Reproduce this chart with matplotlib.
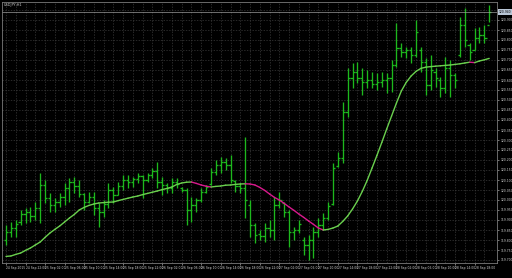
import matplotlib
matplotlib.use("Agg")
import matplotlib.pyplot as plt
import matplotlib.transforms as mtransforms
import numpy as np

symbol = "USDJPY,H1"

bar_high = [
    119.875, 119.890, 119.900, 119.950, 119.960, 119.965, 119.990, 120.135, 120.100, 120.035,
    120.010, 120.035, 120.085, 120.110, 120.115, 120.100, 120.035, 120.040, 120.040, 119.985,
    120.000, 120.085, 120.065, 120.090, 120.125, 120.125, 120.115, 120.135, 120.125, 120.135,
    120.160, 120.190, 120.115, 120.085, 120.110, 120.110, 120.065, 120.060, 120.015, 120.010,
    120.060, 120.075, 120.160, 120.200, 120.215, 120.210, 120.225, 120.100, 120.085, 120.315,
    120.000, 119.885, 119.850, 119.885, 119.900, 120.015, 120.040, 119.990, 119.950, 119.865,
    119.900, 119.815, 119.825, 119.865, 119.910, 119.935, 119.990, 120.185, 120.240, 120.490,
    120.660, 120.685, 120.690, 120.660, 120.650, 120.640, 120.635, 120.640, 120.635, 120.700,
    120.885, 120.785, 120.765, 120.765, 120.900, 120.765, 120.710, 120.725, 120.660, 120.615,
    120.715, 120.700, 120.635, 120.915, 120.960, 120.785, 120.860, 120.865, 120.875, 120.975,
]
bar_low = [
    119.775, 119.815, 119.815, 119.875, 119.885, 119.890, 119.900, 119.885, 119.985, 119.940,
    119.940, 119.965, 119.975, 119.990, 120.035, 120.015, 119.950, 119.985, 119.925, 119.865,
    119.915, 119.960, 119.985, 120.025, 120.050, 120.060, 120.065, 120.085, 120.010, 120.090,
    120.110, 120.060, 120.025, 120.035, 120.035, 120.060, 120.040, 119.875, 119.890, 119.940,
    119.990, 120.035, 120.075, 120.125, 120.135, 120.150, 120.085, 120.040, 120.035, 119.910,
    119.815, 119.785, 119.800, 119.790, 119.815, 119.800, 119.960, 119.915, 119.765, 119.800,
    119.835, 119.725, 119.700, 119.710, 119.815, 119.850, 119.900, 119.975, 120.165, 120.185,
    120.415, 120.560, 120.585, 120.525, 120.560, 120.560, 120.550, 120.565, 120.535, 120.540,
    120.665, 120.715, 120.710, 120.685, 120.715, 120.640, 120.525, 120.550, 120.565, 120.515,
    120.535, 120.515, 120.560, 120.715, 120.765, 120.700, 120.750, 120.785, 120.785, 120.890,
]
bar_open = [
    119.800, 119.840, 119.860, 119.890, 119.930, 119.940, 119.920, 119.960, 120.075, 120.010,
    119.975, 119.990, 120.015, 120.060, 120.090, 120.070, 120.030, 119.990, 120.015, 119.960,
    119.940, 119.980, 120.050, 120.025, 120.070, 120.100, 120.090, 120.105, 120.120, 120.100,
    120.125, 120.145, 120.090, 120.075, 120.060, 120.090, 120.060, 120.050, 119.950, 119.975,
    120.000, 120.040, 120.080, 120.140, 120.175, 120.190, 120.175, 120.095, 120.070, 120.060,
    119.975, 119.875, 119.830, 119.820, 119.860, 119.850, 119.975, 119.985, 119.940, 119.840,
    119.850, 119.800, 119.775, 119.800, 119.840, 119.875, 119.910, 119.980, 120.170, 120.210,
    120.440, 120.610, 120.640, 120.610, 120.590, 120.600, 120.580, 120.590, 120.600, 120.610,
    120.675, 120.760, 120.740, 120.750, 120.725, 120.750, 120.690, 120.575, 120.640, 120.600,
    120.560, 120.660, 120.625, 120.725, 120.875, 120.775, 120.750, 120.810, 120.825, 120.875,
]
bar_close = [
    119.840, 119.860, 119.880, 119.930, 119.940, 119.920, 119.960, 120.075, 120.010, 119.975,
    119.990, 120.015, 120.060, 120.090, 120.070, 120.030, 119.990, 120.015, 119.960, 119.940,
    119.980, 120.050, 120.025, 120.070, 120.100, 120.090, 120.105, 120.120, 120.100, 120.125,
    120.145, 120.090, 120.075, 120.060, 120.090, 120.080, 120.050, 119.950, 119.975, 120.000,
    120.040, 120.065, 120.140, 120.175, 120.190, 120.175, 120.100, 120.070, 120.060, 120.000,
    119.875, 119.825, 119.820, 119.860, 119.850, 119.975, 120.000, 119.940, 119.840, 119.850,
    119.880, 119.775, 119.800, 119.840, 119.875, 119.910, 119.970, 120.160, 120.210, 120.440,
    120.610, 120.640, 120.610, 120.590, 120.600, 120.580, 120.590, 120.600, 120.610, 120.675,
    120.760, 120.740, 120.750, 120.725, 120.840, 120.690, 120.575, 120.650, 120.610, 120.560,
    120.660, 120.625, 120.600, 120.875, 120.800, 120.740, 120.810, 120.825, 120.810, 120.940,
]
ma_line = [
    119.718, 119.720, 119.728, 119.735, 119.748, 119.760, 119.775, 119.790, 119.813, 119.835,
    119.853, 119.870, 119.890, 119.910, 119.928, 119.950, 119.963, 119.973, 119.980, 119.985,
    119.987, 119.989, 119.990, 119.997, 120.003, 120.009, 120.015, 120.020, 120.027, 120.033,
    120.039, 120.045, 120.052, 120.058, 120.065, 120.078, 120.085, 120.089, 120.090, 120.083,
    120.075, 120.069, 120.065, 120.068, 120.070, 120.074, 120.075, 120.078, 120.080, 120.081,
    120.080, 120.075, 120.063, 120.048, 120.030, 120.013, 120.000, 119.983, 119.965, 119.948,
    119.930, 119.913, 119.895, 119.878, 119.860, 119.850, 119.853, 119.860, 119.870, 119.893,
    119.920, 119.955, 119.995, 120.043, 120.098, 120.160, 120.223, 120.288, 120.355, 120.420,
    120.485, 120.545, 120.588, 120.620, 120.643, 120.658, 120.664, 120.667, 120.669, 120.671,
    120.673, 120.675, 120.678, 120.681, 120.685, 120.689, 120.687, 120.695, 120.701, 120.708,
]
time_labels = [
    "24 Sep 2015", "24 Sep 22:00", "25 Sep 02:00", "25 Sep 06:00", "25 Sep 10:00",
    "25 Sep 14:00", "25 Sep 18:00", "25 Sep 22:00", "26 Sep 02:00", "26 Sep 06:00",
    "26 Sep 10:00", "26 Sep 14:00", "26 Sep 18:00", "26 Sep 22:00", "27 Sep 02:00",
    "27 Sep 06:00", "27 Sep 10:00", "27 Sep 14:00", "27 Sep 18:00", "27 Sep 22:00",
    "28 Sep 02:00", "28 Sep 06:00", "28 Sep 10:00", "28 Sep 14:00", "28 Sep 18:00",
]

bar_color = "#1db81d"
ma_up, ma_down = "#6ad04e", "#d8198c"
text_color = "#d0d0d0"

fig = plt.figure(figsize=(5.12, 2.78), dpi=100, facecolor="black")
ax = fig.add_axes([2 / 512, 15 / 278, 495 / 512, 261 / 278])
ax.set_facecolor("black")

x = np.arange(len(bar_high))
last = bar_close[-1]

# grid first so bars sit on top
ax.set_xticks(np.arange(0, len(x), 4))
ax.set_xticks(np.arange(2, len(x), 4), minor=True)
ax.set_xticklabels(time_labels)
yticks = np.round(np.arange(119.70, 120.96, 0.05), 3)
ax.set_yticks(yticks)
# the price box covers the scale label next to the last price
ax.set_yticklabels(["" if abs(v - last) < 0.03 else f"{v:.3f}" for v in yticks])
ax.grid(which="both", color="#3a3a3a", ls=(0, (2, 2)), lw=0.5)
ax.set_axisbelow(True)

# OHLC bars
ax.vlines(x, bar_low, bar_high, color=bar_color, lw=0.95)
ax.hlines(bar_open, x - 0.45, x, color=bar_color, lw=0.95)
ax.hlines(bar_close, x, x + 0.45, color=bar_color, lw=0.95)

# moving average, coloured by slope
for i in range(len(ma_line) - 1):
    c = ma_up if ma_line[i + 1] >= ma_line[i] else ma_down
    ax.plot(x[i:i + 2], ma_line[i:i + 2], color=c, lw=1.0, solid_capstyle="round")

# bid line + price box
ax.axhline(last, color="#9a9a9a", lw=0.5)
trans = mtransforms.blended_transform_factory(ax.transAxes, ax.transData)
ax.text(1.004, last, f"{last:.3f}", transform=trans, fontsize=2.2,
        color="black", va="center", ha="left", clip_on=False,
        bbox=dict(facecolor="#b9c6d6", edgecolor="none", pad=0.4))

ax.set_xlim(-0.82, 100.6)
ax.set_ylim(119.685, 120.990)

ax.yaxis.tick_right()
ax.tick_params(axis="both", which="major", labelsize=2.2, colors=text_color,
               length=1.5, width=0.4, pad=1)
ax.tick_params(axis="x", which="minor", length=0)
for lbl in ax.get_xticklabels():
    lbl.set_horizontalalignment("left")
for s in ax.spines.values():
    s.set_color("#7a7a7a")
    s.set_linewidth(0.6)

fig.text(4 / 512, 1 - 5 / 278, symbol, fontsize=2.5, color=text_color, va="center")

fig.savefig("out.png", dpi=100, facecolor="black")
